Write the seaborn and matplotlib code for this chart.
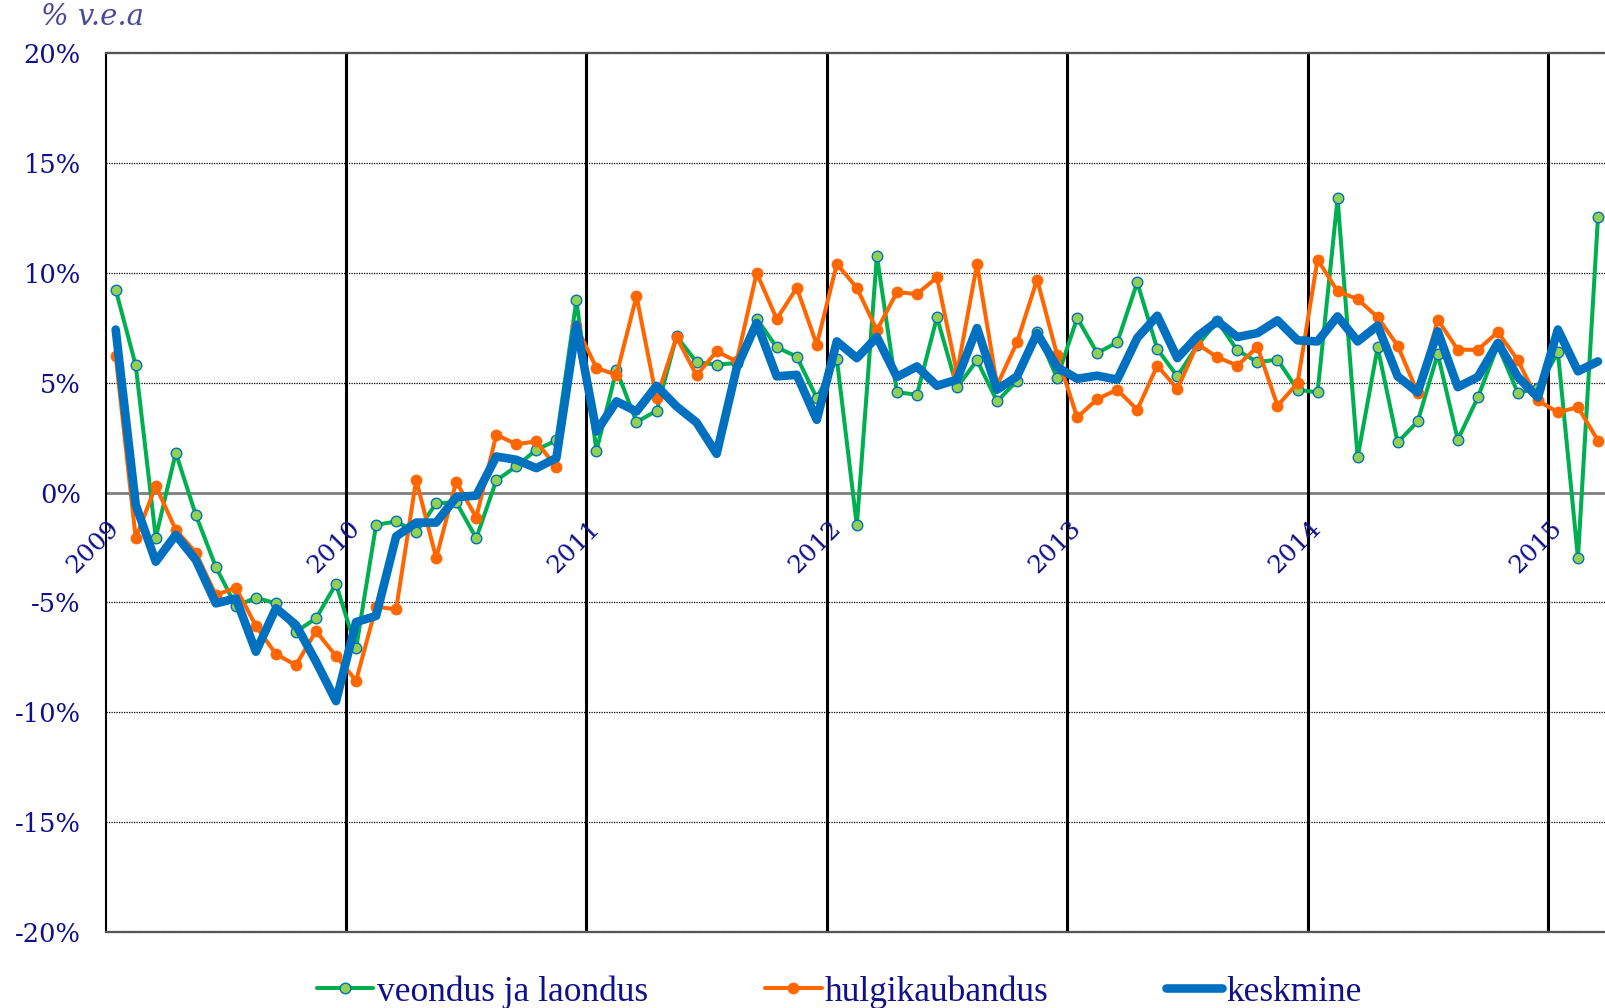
import numpy as np
import pandas as pd
import matplotlib
matplotlib.use("Agg")
import matplotlib.pyplot as plt
import seaborn as sns

# monthly growth, % y/y, Jan 2009 .. Mar 2015
years = [2009, 2010, 2011, 2012, 2013, 2014, 2015]

veondus = [9.24, 5.79, -2.05, 1.81, -1.02, -3.39, -5.17, -4.79, -5.05, -6.34, -5.73, -4.16,
           -7.10, -1.47, -1.32, -1.82, -0.49, -0.44, -2.08, 0.55, 1.19, 1.95, 2.37, 8.75,
           1.90, 5.59, 3.21, 3.72, 7.11, 5.94, 5.82, 5.90, 7.92, 6.61, 6.19, 4.30,
           6.09, -1.50, 10.79, 4.57, 4.45, 7.98, 4.79, 6.02, 4.15, 5.09, 7.30, 5.21,
           7.95, 6.35, 6.84, 9.57, 6.53, 5.29, 6.70, 7.80, 6.47, 5.94, 6.05, 4.68,
           4.56, 13.39, 1.60, 6.61, 2.28, 3.24, 6.31, 2.40, 4.33, 6.70, 4.53, 4.76,
           6.38, -2.99, 12.54]

hulgi = [6.23, -2.08, 0.30, -1.70, -2.74, -4.67, -4.33, -6.08, -7.36, -7.86, -6.31, -7.45,
         -8.57, -5.20, -5.32, 0.58, -2.99, 0.50, -1.14, 2.63, 2.20, 2.33, 1.14, 7.57,
         5.67, 5.36, 8.94, 4.30, 7.08, 5.33, 6.43, 5.97, 10.00, 7.90, 9.32, 6.73,
         10.41, 9.32, 7.39, 9.12, 9.04, 9.80, 5.44, 10.41, 4.88, 6.85, 9.70, 6.25,
         3.42, 4.26, 4.68, 3.77, 5.78, 4.71, 6.76, 6.16, 5.78, 6.63, 3.95, 4.98,
         10.61, 9.16, 8.81, 7.98, 6.69, 4.53, 7.87, 6.50, 6.50, 7.31, 6.02, 4.19,
         3.65, 3.89, 2.36]

keskmine = [7.42, -0.56, -3.15, -1.93, -3.07, -5.05, -4.82, -7.25, -5.27, -6.03, -7.70, -9.50,
            -5.90, -5.62, -2.00, -1.37, -1.37, -0.21, -0.14, 1.64, 1.49, 1.11, 1.57, 7.64,
            2.78, 4.15, 3.69, 4.86, 3.92, 3.19, 1.76, 5.67, 7.72, 5.29, 5.36, 3.31,
            6.88, 6.12, 7.08, 5.26, 5.74, 4.86, 5.14, 7.49, 4.68, 5.29, 7.26, 5.71,
            5.18, 5.32, 5.14, 7.04, 8.05, 6.12, 7.11, 7.80, 7.08, 7.26, 7.84, 6.93,
            6.88, 8.02, 6.88, 7.60, 5.29, 4.56, 7.34, 4.80, 5.26, 6.81, 5.26, 4.33,
            7.42, 5.52, 5.97]

yticks = [20, 15, 10, 5, 0, -5, -10, -15, -20]

df = pd.DataFrame({"month": np.arange(len(keskmine)),
                   "veondus": veondus, "hulgi": hulgi, "keskmine": keskmine})

sns.set_style("white")
plt.rcParams["font.family"] = ["DejaVu Serif"]

NAVY = "#10108a"

fig = plt.figure(figsize=(16.06, 10.08), dpi=100)
ax = fig.add_axes([0.0658, 0.0757, 1.0 - 0.0658, 0.8714])

sns.lineplot(data=df, x="month", y="veondus", ax=ax, color="#00b050", linewidth=2.9,
             marker="o", markersize=7.6, markerfacecolor="#92d050",
             markeredgecolor="#0070c0", markeredgewidth=1.0,
             label="veondus ja laondus", zorder=3)
sns.lineplot(data=df, x="month", y="hulgi", ax=ax, color="#ff6600", linewidth=2.9,
             marker="o", markersize=8.0, markerfacecolor="#ff6600",
             markeredgecolor="#ff6600", markeredgewidth=0.5,
             label="hulgikaubandus", zorder=4)
sns.lineplot(data=df, x="month", y="keskmine", ax=ax, color="#0070c0", linewidth=6.2,
             label="keskmine", zorder=5)

ax.set_xlim(-0.5, 74.4)
ax.set_ylim(-20, 20)

# grid
for v in [-15, -10, -5, 5, 10, 15]:
    ax.axhline(v, color="black", linewidth=0.9, linestyle=(0, (1, 1)), zorder=1)
ax.axhline(0, color="#808080", linewidth=2.0, zorder=1)
for k in range(1, len(years)):
    ax.axvline(12 * k - 0.5, color="black", linewidth=2.2, zorder=2)

# year labels inside the plot, below the zero line
for k, yr in enumerate(years):
    ax.text(12 * k - 0.5 - 0.6, -2.5, str(yr), rotation=45, ha="center", va="center",
            fontsize=18, color=NAVY, zorder=6)

ax.set_xticks([])
ax.set_xlabel("")
ax.set_ylabel("")
ax.set_yticks(yticks)
ax.set_yticklabels([f"{v}%" for v in yticks], fontsize=18.5, color=NAVY)
ax.tick_params(axis="y", length=0, pad=18)

for s in ["top", "bottom"]:
    ax.spines[s].set_color("#555555")
    ax.spines[s].set_linewidth(1.6)
    ax.spines[s].set_linestyle((0, (1, 0.5)))
ax.spines["left"].set_color("black")
ax.spines["left"].set_linewidth(1.5)
ax.spines["right"].set_visible(False)

fig.text(0.0255, 0.997, "% v.e.a", fontsize=21, style="italic", color="#4a4a9a",
         ha="left", va="top")

ax.get_legend().remove()
handles, labels = ax.get_legend_handles_labels()
fig.legend(handles, labels, loc="center", bbox_to_anchor=(0.5224, 0.016), ncol=3,
           frameon=False, handlelength=1.6, handletextpad=0.1, columnspacing=3.3,
           prop={"family": "Liberation Serif", "size": 25.5}, labelcolor=NAVY)

fig.savefig("out.png", dpi=100, facecolor="white")
